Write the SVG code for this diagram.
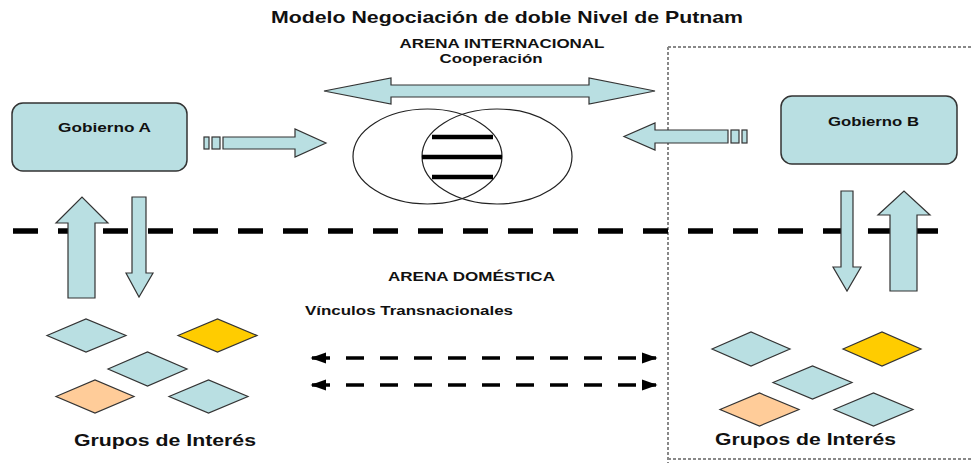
<svg xmlns="http://www.w3.org/2000/svg" width="973" height="463" viewBox="0 0 973 463">
<style>
  .t { font-family: "Liberation Sans", Arial, sans-serif; font-weight: bold; fill: #111; }
  .box { fill: #b9dfe2; stroke: #333; stroke-width: 1.5; }
  .arr { fill: #b9dfe2; stroke: #333; stroke-width: 1.2; stroke-linejoin: miter; }
  .dia { stroke: #333; stroke-width: 1.2; }
  .blue { fill: #b9dfe2; }
  .yellow { fill: #ffcc00; }
  .peach { fill: #ffcc99; }
  .ell { fill: none; stroke: #222; stroke-width: 1.2; }
  .bar { stroke: #000; stroke-width: 4.5; }
  .gray { fill: none; stroke: #888; stroke-width: 2; stroke-dasharray: 3 2; }
  .bigdash { stroke: #000; stroke-width: 5.5; stroke-dasharray: 25 20; }
  .smdash { stroke: #000; stroke-width: 3.5; stroke-dasharray: 18 16; }
</style>
<defs>
  <marker id="ah" viewBox="0 0 10 10" refX="9" refY="5" markerWidth="4.5" markerHeight="3.2" orient="auto-start-reverse" markerUnits="strokeWidth" preserveAspectRatio="none">
    <path d="M0,0 L10,5 L0,10 Z" fill="#000"/>
  </marker>
</defs>
<rect width="973" height="463" fill="#fff"/>

<text class="t" x="507" y="23" font-size="17" text-anchor="middle" textLength="472" lengthAdjust="spacingAndGlyphs">Modelo Negociación de doble Nivel de Putnam</text>

<g id="region-b">
  <path class="gray" d="M668,47 H973 M668,47 V463 M668,459 H973"/>
</g>

<g id="arena-internacional">
  <text class="t" x="502" y="48" font-size="12" text-anchor="middle" textLength="205" lengthAdjust="spacingAndGlyphs">ARENA INTERNACIONAL</text>
  <text class="t" x="491" y="63" font-size="12" text-anchor="middle" textLength="103" lengthAdjust="spacingAndGlyphs">Cooperación</text>
</g>

<g id="separator">
  <line class="bigdash" x1="13" y1="231" x2="938" y2="231"/>
</g>

<g id="cooperacion">
  <ellipse class="ell" cx="427.5" cy="156.5" rx="74.5" ry="47.5"/>
  <ellipse class="ell" cx="497" cy="156.5" rx="75" ry="47.5"/>
  <line class="bar" x1="432" y1="137" x2="493" y2="137"/>
  <line class="bar" x1="422" y1="157" x2="502" y2="157"/>
  <line class="bar" x1="432" y1="177" x2="493" y2="177"/>
</g>

<g id="gobierno-a">
  <rect class="box" x="12" y="103" width="175" height="68" rx="11"/>
  <text class="t" x="104.5" y="132" font-size="12.5" text-anchor="middle" textLength="93" lengthAdjust="spacingAndGlyphs">Gobierno A</text>
</g>

<g id="gobierno-b">
  <rect class="box" x="781" y="96" width="176" height="68" rx="11"/>
  <text class="t" x="873.5" y="126" font-size="12.5" text-anchor="middle" textLength="91" lengthAdjust="spacingAndGlyphs">Gobierno B</text>
</g>

<g id="grupos-a">
  <polygon class="dia blue" points="47,335.5 86,319 126,335.5 86,352"/>
  <polygon class="dia yellow" points="178,335.5 217.5,319 257,335.5 217.5,352"/>
  <polygon class="dia blue" points="108,369 147.5,352 187,369 147.5,386"/>
  <polygon class="dia peach" points="56,396.5 95,380 134,396.5 95,413"/>
  <polygon class="dia blue" points="169,396.5 208.5,380 248,396.5 208.5,413"/>
  <text class="t" x="165" y="446" font-size="17" text-anchor="middle" textLength="182" lengthAdjust="spacingAndGlyphs">Grupos de Interés</text>
</g>

<g id="grupos-b">
  <polygon class="dia blue" points="712,349 751,332 790,349 751,366"/>
  <polygon class="dia yellow" points="843,349 882,332 921,349 882,366"/>
  <polygon class="dia blue" points="773,382.5 812.5,366 852,382.5 812.5,399"/>
  <polygon class="dia peach" points="720,409.5 759.5,393 799,409.5 759.5,426"/>
  <polygon class="dia blue" points="834,409.5 873.5,393 913,409.5 873.5,426"/>
  <text class="t" x="805.5" y="445" font-size="17" text-anchor="middle" textLength="181" lengthAdjust="spacingAndGlyphs">Grupos de Interés</text>
</g>

<g id="arena-domestica">
  <text class="t" x="471.5" y="281" font-size="12" text-anchor="middle" textLength="167" lengthAdjust="spacingAndGlyphs">ARENA DOMÉSTICA</text>
  <text class="t" x="409" y="315" font-size="12" text-anchor="middle" textLength="208" lengthAdjust="spacingAndGlyphs">Vínculos Transnacionales</text>
</g>

<g id="connectors">
  <polygon class="arr" points="324,91 391,78 391,85 589,85 589,78 655,91 589,104 589,97 391,97 391,104"/>
  <rect class="arr" x="204" y="137" width="5" height="12"/>
  <rect class="arr" x="212" y="137" width="8" height="12"/>
  <polygon class="arr" points="223,137 295,137 295,129 326,143 295,157 295,149 223,149"/>
  <rect class="arr" x="742" y="130" width="5" height="13"/>
  <rect class="arr" x="731" y="130" width="8" height="13"/>
  <polygon class="arr" points="728,130 655,130 655,123 624,136.5 655,150 655,143 728,143"/>
  <polygon class="arr" points="68,298 68,223 56,223 82,197 108,223 95,223 95,298"/>
  <polygon class="arr" points="132,197 146,197 146,273 153,273 139,297 126,273 132,273"/>
  <polygon class="arr" points="841,191 853,191 853,267 861,267 847,291 833,267 841,267"/>
  <polygon class="arr" points="890,291 890,215 878,215 904,191 930,215 917,215 917,291"/>
  <line class="smdash" x1="312" y1="358" x2="656" y2="358" marker-start="url(#ah)" marker-end="url(#ah)"/>
  <line class="smdash" x1="312" y1="385" x2="656" y2="385" marker-start="url(#ah)" marker-end="url(#ah)"/>
</g>
</svg>
